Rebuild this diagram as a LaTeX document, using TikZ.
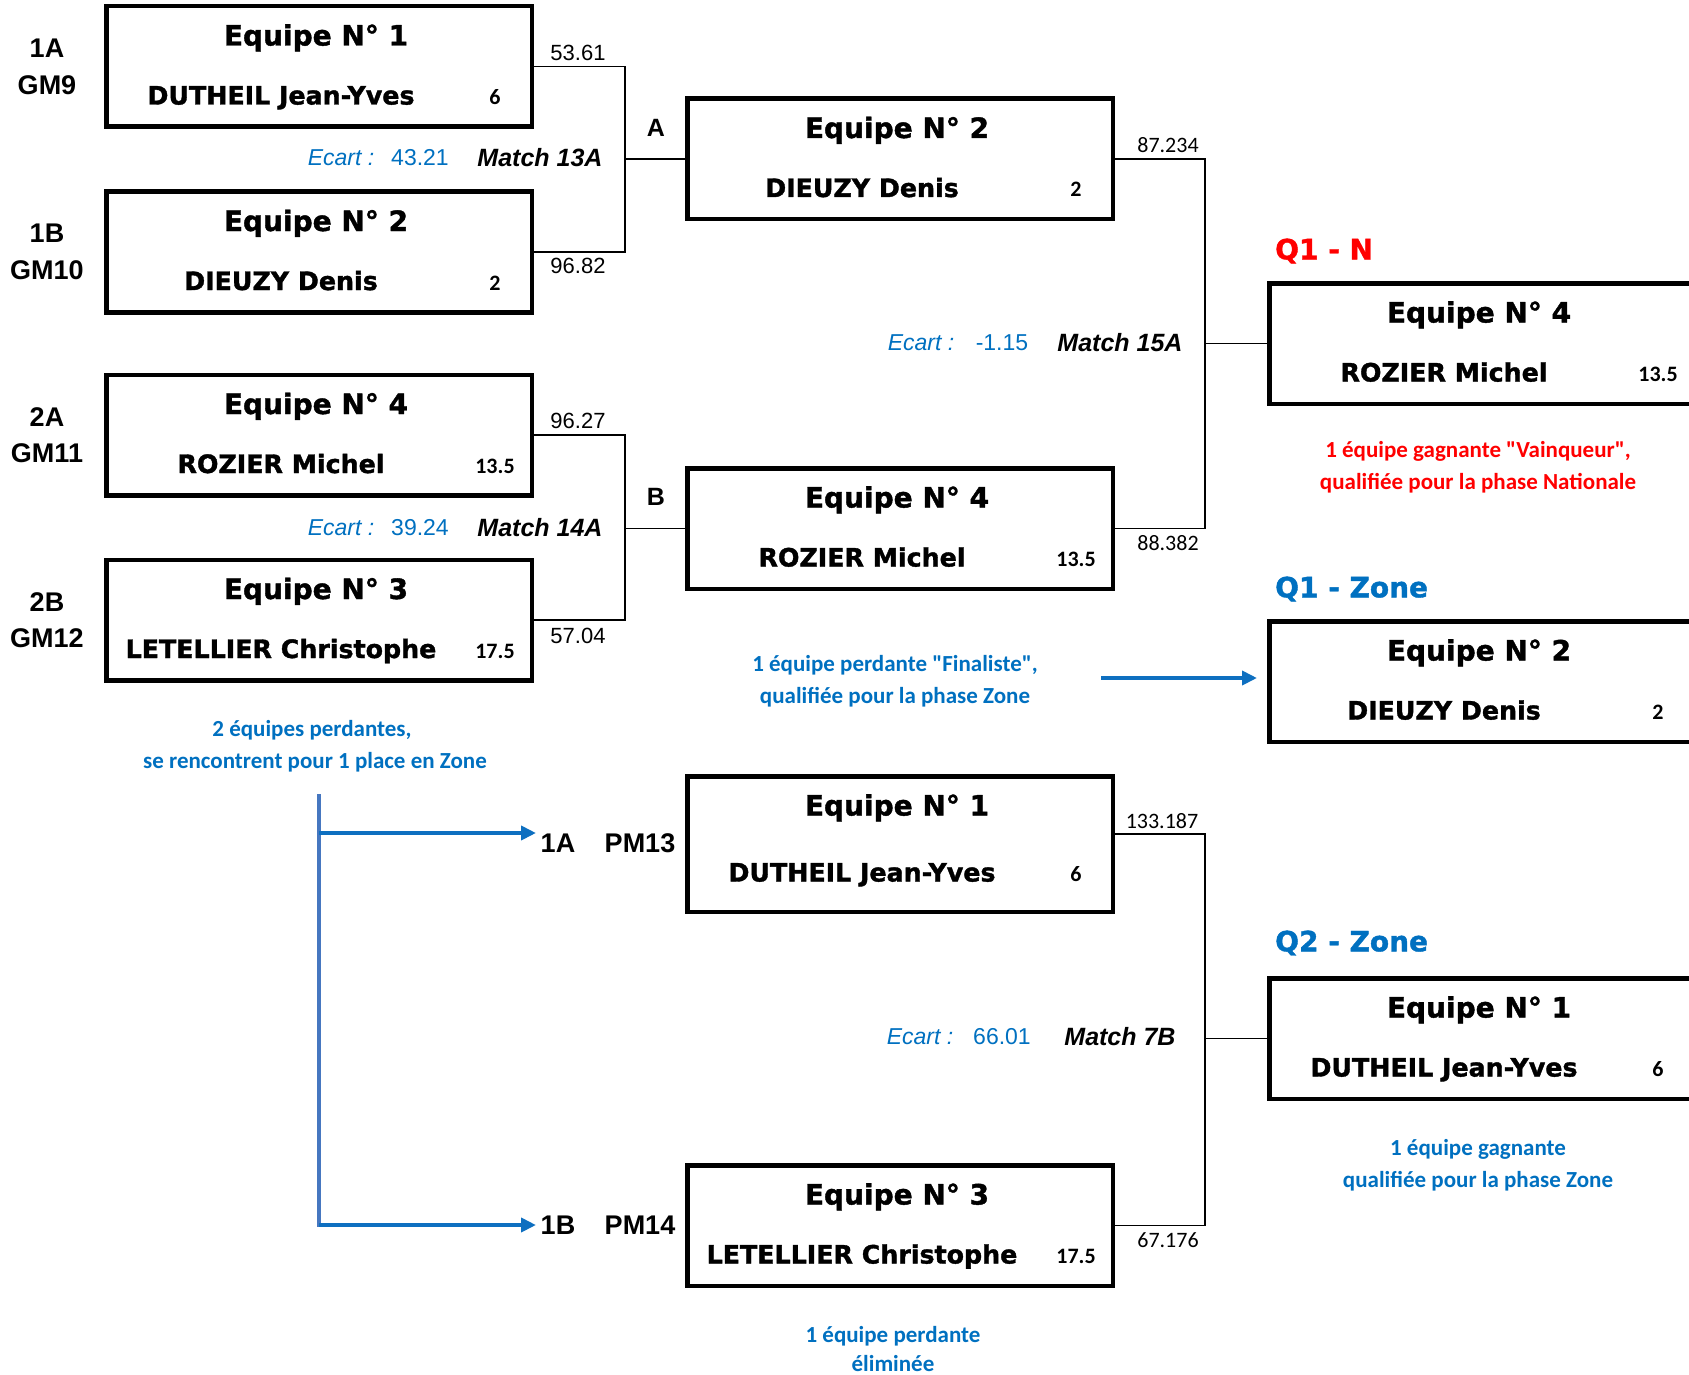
\documentclass[tikz,border=0pt]{standalone}
\usepackage{fontspec}
\setmainfont{Liberation Sans}
\newfontfamily\heavyfont{DejaVu Sans}[BoldFeatures={FakeBold=1.4}]
\newfontfamily\califont{Carlito}
\usetikzlibrary{arrows.meta}
\definecolor{xblue}{HTML}{0070C0}
\definecolor{xred}{HTML}{FF0000}
\definecolor{arrblue}{HTML}{0E6FC0}
\definecolor{vblue}{HTML}{4677C0}
\tikzset{
  teambox/.style={draw, line width=4.5pt, minimum width=425.5pt, inner sep=0pt},
  ttl/.style={anchor=base, inner sep=0pt, font=\heavyfont\bfseries\fontsize{28}{34}\selectfont},
  nm/.style={anchor=base, inner sep=0pt, font=\heavyfont\bfseries\fontsize{25.3}{30}\selectfont},
  sc/.style={anchor=base, inner sep=0pt, font=\califont\bfseries\fontsize{22}{26}\selectfont},
  conn/.style={line width=1.6pt},
  lbl/.style={inner sep=0pt, font=\bfseries\fontsize{27}{32}\selectfont},
  ptsL/.style={inner sep=0pt, font=\fontsize{22}{26}\selectfont},
  ptsR/.style={inner sep=0pt, font=\califont\fontsize{22}{26}\selectfont},
  ecartlab/.style={inner sep=0pt, text=xblue, font=\itshape\fontsize{23}{27}\selectfont},
  ecartval/.style={inner sep=0pt, text=xblue, font=\fontsize{23}{27}\selectfont},
  matchlab/.style={inner sep=0pt, font=\bfseries\itshape\fontsize{25}{29}\selectfont},
  qlab/.style={anchor=west, inner sep=0pt, font=\heavyfont\bfseries\fontsize{28}{34}\selectfont},
  desc/.style={anchor=base, inner sep=0pt, font=\califont\bfseries\fontsize{23}{28}\selectfont},
  bluearrow/.style={line width=4pt, draw=arrblue, -{Triangle[length=15pt,width=14pt,fill=arrblue]}},
}
% name, cx, cy, min height, name shift, team no, player, score
\newcommand{\teamBox}[8]{%
  \node[teambox, minimum height=#4pt] (#1) at (#2,#3) {};
  \node[ttl] (#1-t) at ([xshift=-3pt,yshift=-41.5pt]#1.north) {Equipe N°~#6};
  \node[nm] (#1-n) at ([xshift=-38pt,yshift=-#5pt]#1.north) {#7};
  \node[sc] (#1-s) at ([xshift=176pt,yshift=-#5pt]#1.north) {#8};
}
\begin{document}
\begin{tikzpicture}[x=1pt,y=-1pt]
\useasboundingbox (0,0) rectangle (1689,1375);
\clip (0,0) rectangle (1689,1375);

% left column
\teamBox{L1}{319}{66.5}{120.5}{100.5}{1}{DUTHEIL Jean-Yves}{6}
\teamBox{L2}{319}{252}{120.5}{100.5}{2}{DIEUZY Denis}{2}
\teamBox{L3}{319}{435}{120.5}{100.5}{4}{ROZIER Michel}{13.5}
\teamBox{L4}{319}{620}{120.5}{100.5}{3}{LETELLIER Christophe}{17.5}
% middle column
\teamBox{MA}{900}{159}{120.5}{100.5}{2}{DIEUZY Denis}{2}
\teamBox{MB}{900}{528.5}{120.5}{100.5}{4}{ROZIER Michel}{13.5}
\teamBox{PM13}{900}{844}{135.5}{107.5}{1}{DUTHEIL Jean-Yves}{6}
\teamBox{PM14}{900}{1225.5}{120.5}{100.5}{3}{LETELLIER Christophe}{17.5}
% right column
\teamBox{Q1N}{1482}{343.5}{120.5}{100.5}{4}{ROZIER Michel}{13.5}
\teamBox{Q1Z}{1482}{681.5}{120.5}{100.5}{2}{DIEUZY Denis}{2}
\teamBox{Q2}{1482}{1038.5}{120.5}{100.5}{1}{DUTHEIL Jean-Yves}{6}

% left labels
\node[lbl] (g1a) at (47,48) {1A};
\node[lbl] (g1b) at (47,85) {GM9};
\node[lbl] (g2a) at (47,233) {1B};
\node[lbl] (g2b) at (47,270) {GM10};
\node[lbl] (g3a) at (47,417) {2A};
\node[lbl] (g3b) at (47,453) {GM11};
\node[lbl] (g4a) at (47,602) {2B};
\node[lbl] (g4b) at (47,638) {GM12};

% connectors
\coordinate (jA) at (625,159);
\coordinate (jB) at (625,528.5);
\coordinate (jC) at (1205,343.5);
\coordinate (jD) at (1205,1038.5);
\draw[conn] (L1.east) -| (jA) |- (L2.east);
\draw[conn] (jA) -- (MA.west);
\draw[conn] (L3.east) -| (jB) |- (L4.east);
\draw[conn] (jB) -- (MB.west);
\draw[conn] (MA.east) -| (jC) |- (MB.east);
\draw[conn] (jC) -- (Q1N.west);
\draw[conn] ([yshift=10pt]PM13.east) -| (jD) |- (PM14.east);
\draw[conn] (jD) -- (Q2.west);

\node[lbl, font=\bfseries\fontsize{25}{30}\selectfont] (labA) at (656,128) {A};
\node[lbl, font=\bfseries\fontsize{25}{30}\selectfont] (labB) at (656,497) {B};

% scores
\node[ptsL] (p1) at (578,52.7) {53.61};
\node[ptsL] (p2) at (578,265.7) {96.82};
\node[ptsL] (p3) at (578,421) {96.27};
\node[ptsL] (p4) at (578,636) {57.04};
\node[ptsR] (p5) at (1168,145) {87.234};
\node[ptsR] (p6) at (1168,543) {88.382};
\node[ptsR] (p7) at (1162,821) {133.187};
\node[ptsR] (p8) at (1168,1240) {67.176};

% ecart rows
\node[ecartlab] (e1) at (341,158) {Ecart :};
\node[ecartval] (e1v) at (420,158) {43.21};
\node[matchlab] (m1) at (540,158) {Match 13A};
\node[ecartlab] (e2) at (341,528) {Ecart :};
\node[ecartval] (e2v) at (420,528) {39.24};
\node[matchlab] (m2) at (540,528) {Match 14A};
\node[ecartlab] (e3) at (921,343) {Ecart :};
\node[ecartval] (e3v) at (1002,343) {-1.15};
\node[matchlab] (m3) at (1120,343) {Match 15A};
\node[ecartlab] (e4) at (920,1037) {Ecart :};
\node[ecartval] (e4v) at (1002,1037) {66.01};
\node[matchlab] (m4) at (1120,1037) {Match 7B};

% Q labels
\node[qlab, text=xred] (q1n) at (1275,251) {Q1 - N};
\node[qlab, text=xblue] (q1z) at (1275,589) {Q1 - Zone};
\node[qlab, text=xblue] (q2z) at (1275,943) {Q2 - Zone};

% descriptive texts
\node[desc, text=xred] (d1) at (1478,457) {1 équipe gagnante "Vainqueur",};
\node[desc, text=xred] (d2) at (1478,489) {qualifiée pour la phase Nationale};
\node[desc, text=xblue] (d3) at (312,736) {2 équipes perdantes,};
\node[desc, text=xblue] (d4) at (315,768) {se rencontrent pour 1 place en Zone};
\node[desc, text=xblue] (d5) at (895,671) {1 équipe perdante "Finaliste",};
\node[desc, text=xblue] (d6) at (895,703) {qualifiée pour la phase Zone};
\node[desc, text=xblue] (d7) at (1478,1155) {1 équipe gagnante};
\node[desc, text=xblue] (d8) at (1478,1187) {qualifiée pour la phase Zone};
\node[desc, text=xblue] (d9) at (893,1342) {1 équipe perdante};
\node[desc, text=xblue] (d10) at (893,1371) {éliminée};

% PM labels
\node[lbl] (pa1) at (558,843) {1A};
\node[lbl] (pa2) at (640,843) {PM13};
\node[lbl] (pb1) at (558,1225) {1B};
\node[lbl] (pb2) at (640,1225) {PM14};

% blue arrows
\coordinate (v1) at (319,794);
\coordinate (v2) at (319,1227);
\coordinate (a1) at (319,833);
\coordinate (a2) at (319,1225);
\coordinate (t1) at (536,833);
\coordinate (t2) at (536,1225);
\draw[line width=4pt, draw=vblue] (v1) -- (v2);
\draw[bluearrow] (a1) -- (t1);
\draw[bluearrow] (a2) -- (t2);
\coordinate (fs) at (1101,678);
\coordinate (fe) at (1257,678);
\draw[bluearrow] (fs) -- (fe);
\end{tikzpicture}
\end{document}
